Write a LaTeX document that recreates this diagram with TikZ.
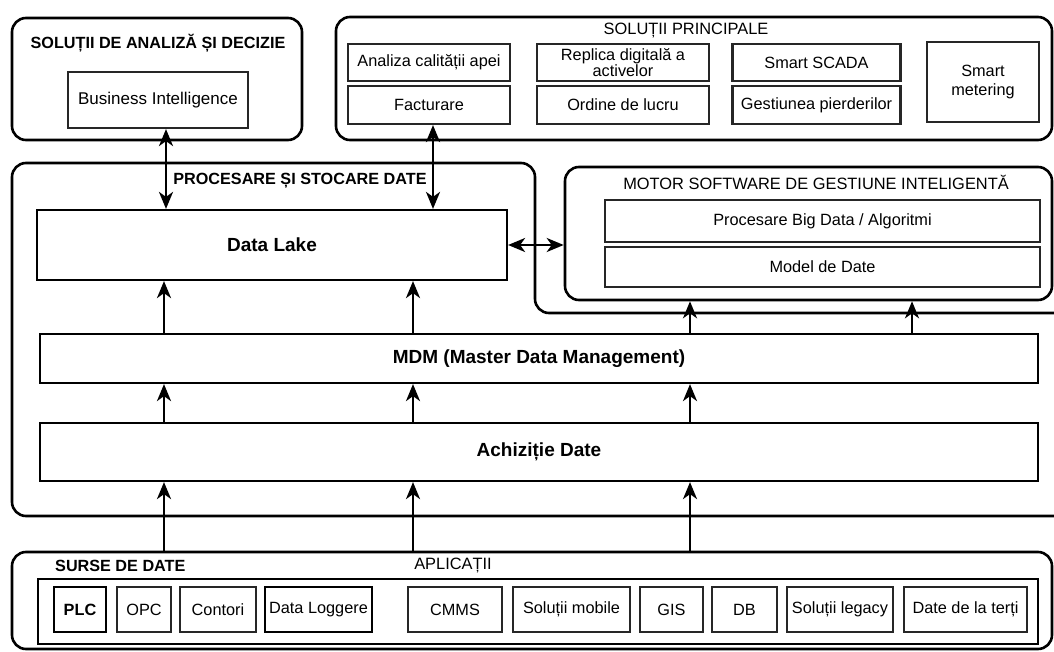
\documentclass[tikz,border=0pt]{standalone}
\usepackage{fontspec}
\setmainfont{Liberation Sans}
\usetikzlibrary{arrows.meta}
\begin{document}
\begin{tikzpicture}[x=1pt,y=-1pt,
  outer/.style={draw, line width=2.6pt, rounded corners=14pt, inner sep=0pt},
  bx/.style={draw=black!85, line width=2.2pt, inner sep=0pt, align=center, font=\fontsize{16.3}{15.5}\selectfont},
  hbx/.style={bx, draw=black, line width=2.8pt},
  bbx/.style={bx, draw=black, font=\fontsize{19}{20}\selectfont\bfseries},
  ttl/.style={inner sep=0pt, font=\fontsize{16.2}{17}\selectfont\bfseries},
  rttl/.style={inner sep=0pt, font=\fontsize{16.4}{17}\selectfont},
  arr/.style={line width=2.4pt, -{Stealth[length=17pt,width=14pt,inset=5pt]}},
  dbl/.style={line width=2.4pt, {Stealth[length=17pt,width=14pt,inset=5pt]}-{Stealth[length=17pt,width=14pt,inset=5pt]}}
]
\useasboundingbox (0,0) rectangle (1054,652);

% column coordinates for connectors
\coordinate (c166) at (166,0);
\coordinate (c164) at (164,0);
\coordinate (c433) at (433,0);
\coordinate (c413) at (413,0);
\coordinate (c690) at (690,0);
\coordinate (c912) at (912,0);

% ---------- top left ----------
\node[outer, minimum width=290pt, minimum height=122pt] (ana) at (157,79) {};
\node[ttl] (anat) at (158,43) {SOLUȚII DE ANALIZĂ ȘI DECIZIE};
\node[bx, minimum width=180pt, minimum height=56pt, font=\fontsize{17}{17}\selectfont] (bi) at (158,100) {Business Intelligence};

% ---------- top right ----------
\node[outer, minimum width=716pt, minimum height=123pt] (sp) at (694,78.5) {};
\node[rttl] (spt) at (686,31) {SOLUȚII PRINCIPALE};
\node[bx, minimum width=162pt, minimum height=37pt] (a1) at (429,62.5) {Analiza calității apei};
\node[bx, minimum width=162pt, minimum height=38pt] (f1) at (429,105) {Facturare};
\node[bx, minimum width=172pt, minimum height=37pt] (a2) at (623,62.5) {Replica digitală a\\activelor};
\node[bx, minimum width=172pt, minimum height=38pt] (f2) at (623,105) {Ordine de lucru};
\node[bx, minimum width=168pt, minimum height=37pt] (a3) at (816.5,62.5) {Smart SCADA};
\node[bx, minimum width=168pt, minimum height=38pt] (f3) at (816.5,105) {Gestiunea pierderilor};
\node[bx, minimum width=112pt, minimum height=80pt, font=\fontsize{16.3}{19}\selectfont] (sm) at (983,82) {Smart\\metering};

% ---------- processing frame ----------
\draw[line width=2.6pt, rounded corners=14pt] (1060,313) -- (535,313) -- (535,163) -- (12,163) -- (12,516) -- (1060,516);
\node[ttl] (pst) at (300,181) {PROCESARE ȘI STOCARE DATE};
\node[bbx, minimum width=470pt, minimum height=70pt] (dl) at (272,245) {Data Lake};

% ---------- motor ----------
\node[outer, minimum width=487pt, minimum height=133pt] (mot) at (808.5,233.5) {};
\node[rttl] (mott) at (816,182) {MOTOR SOFTWARE DE GESTIUNE INTELIGENTĂ};
\node[bx, minimum width=435pt, minimum height=42pt] (pbd) at (822.5,221) {Procesare Big Data / Algoritmi};
\node[bx, minimum width=435pt, minimum height=40pt] (mdd) at (822.5,267) {Model de Date};

% ---------- MDM / Achizitie ----------
\node[bbx, minimum width=998pt, minimum height=49pt] (mdm) at (539,358.5) {MDM (Master Data Management)};
\node[bbx, minimum width=998pt, minimum height=58pt] (ach) at (539,452) {Achiziție Date};

% ---------- sources ----------
\node[outer, minimum width=1040pt, minimum height=97pt] (src) at (532,600.5) {};
\node[ttl, anchor=west] (srct) at (55,566) {SURSE DE DATE};
\node[rttl] (apt) at (453,566) {APLICAȚII};
\node[draw, line width=2.6pt, minimum width=1000pt, minimum height=65pt, inner sep=0pt] (frm) at (538,611.5) {};
\node[hbx, minimum width=52pt, minimum height=45pt, font=\fontsize{16.3}{15}\selectfont\bfseries] (plc) at (80,609.5) {PLC};
\node[bx, minimum width=54pt, minimum height=45pt] (opc) at (144,609.5) {OPC};
\node[bx, minimum width=76pt, minimum height=45pt] (cnt) at (218,609.5) {Contori};
\node[hbx, minimum width=107pt, minimum height=45pt] (dlg) at (318.5,609.5) {Data Loggere};
\node[bx, minimum width=94pt, minimum height=45pt] (cmms) at (455,609.5) {CMMS};
\node[bx, minimum width=117pt, minimum height=45pt] (mob) at (571.5,609.5) {Soluții mobile};
\node[bx, minimum width=63pt, minimum height=45pt] (gis) at (671.5,609.5) {GIS};
\node[bx, minimum width=65pt, minimum height=45pt] (db) at (744.5,609.5) {DB};
\node[bx, minimum width=106pt, minimum height=45pt] (leg) at (840,609.5) {Soluții legacy};
\node[bx, minimum width=123pt, minimum height=45pt] (ter) at (965.5,609.5) {Date de la terți};

% ---------- connectors ----------
\draw[dbl] (bi.south -| c166) -- (dl.north -| c166);
\draw[dbl] (f1.south -| c433) -- (dl.north -| c433);
\draw[dbl] (dl.east) -- (dl.east -| mot.west);

\draw[arr] (mdm.north -| c164) -- (dl.south -| c164);
\draw[arr] (mdm.north -| c413) -- (dl.south -| c413);
\draw[arr] (mdm.north -| c690) -- (mot.south -| c690);
\draw[arr] (mdm.north -| c912) -- (mot.south -| c912);

\draw[arr] (ach.north -| c164) -- (mdm.south -| c164);
\draw[arr] (ach.north -| c413) -- (mdm.south -| c413);
\draw[arr] (ach.north -| c690) -- (mdm.south -| c690);

\draw[arr] (src.north -| c164) -- (ach.south -| c164);
\draw[arr] (src.north -| c413) -- (ach.south -| c413);
\draw[arr] (src.north -| c690) -- (ach.south -| c690);
\end{tikzpicture}
\end{document}
